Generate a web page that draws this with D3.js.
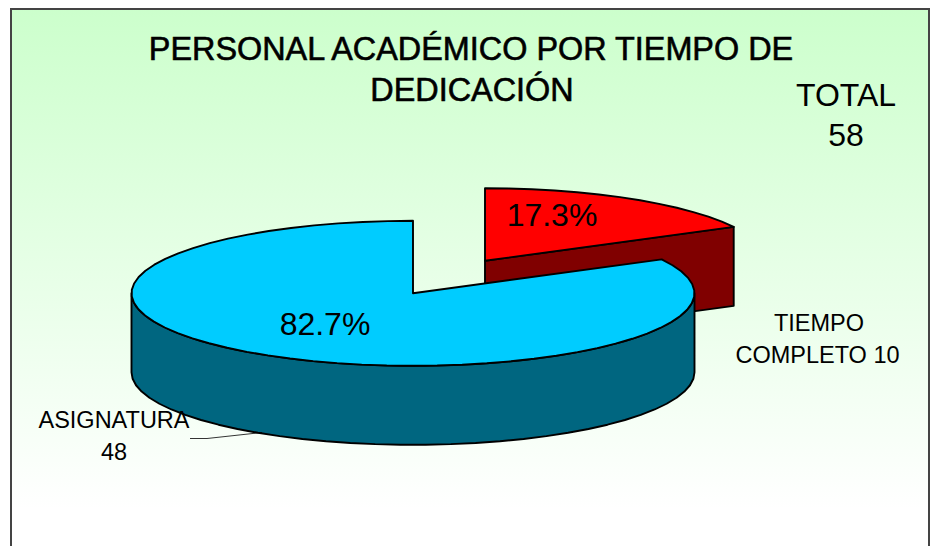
<!DOCTYPE html>
<html>
<head>
<meta charset="utf-8">
<script src="https://d3js.org/d3.v7.min.js"></script>
<style>
  html, body { margin: 0; padding: 0; background: #fff; }
  svg { display: block; }
  text { font-family: "Liberation Sans", Arial, sans-serif; fill: #000; }
</style>
</head>
<body>
<div id="chart"></div>
<script>
// Chart data
var categories = ["TIEMPO COMPLETO", "ASIGNATURA"];
var shares = [17.3, 82.7];
var counts = [10, 48];
var titleLines = ["PERSONAL ACADÉMICO POR TIEMPO DE", "DEDICACIÓN"];
var totalLabel = "TOTAL";
var totalValue = 58;

// Chart details
var svgWidth = 932;
var svgHeight = 546;

var rx = 281.5;
var ry = 72.5;
var depth = 79;
var pieCenter = { x: 413, y: 293.3 };

// the red slice is pulled out of the pie
var explode = [{ x: 72, y: -32.5 }, { x: 0, y: 0 }];
var topColors = ["#ff0000", "#00ccff"];
var sideColors = ["#800000", "#006680"];

var svg = d3.select("#chart").append("svg")
  .attr("width", svgWidth)
  .attr("height", svgHeight);

// Background gradient
var grad = svg.append("defs").append("linearGradient")
  .attr("id", "bg")
  .attr("x1", 0).attr("y1", 0)
  .attr("x2", 0).attr("y2", 1);
grad.append("stop").attr("offset", "0%").attr("stop-color", "#ccffcc");
grad.append("stop").attr("offset", "100%").attr("stop-color", "#ffffff");

svg.append("rect")
  .attr("x", 11)
  .attr("y", 9)
  .attr("width", 918)
  .attr("height", 500)
  .attr("fill", "url(#bg)");

// Frame, open at the bottom of the picture
svg.append("path")
  .attr("d", "M11,546V9H929V546")
  .attr("fill", "none")
  .attr("stroke", "#444")
  .attr("stroke-width", 2);

// Unit circle to flattened ellipse
var xProj = d3.scaleLinear().domain([-1, 1]).range([pieCenter.x - rx, pieCenter.x + rx]);
var yProj = d3.scaleLinear().domain([-1, 1]).range([pieCenter.y + ry, pieCenter.y - ry]);

var line = d3.line();
var slices = d3.pie().sort(null)(counts);

function point(angle, off, drop) {
  return [xProj(Math.sin(angle)) + off.x, yProj(Math.cos(angle)) + off.y + drop];
}

// coarse steps, the original rim is a visible polygon
function rimPoints(a0, a1, off, drop) {
  var n = Math.ceil((a1 - a0) / 0.09);
  return d3.range(n + 1).map(function(i) {
    return point(a0 + (a1 - a0) * i / n, off, drop);
  });
}

function center(off, drop) {
  return [xProj(0) + off.x, yProj(0) + off.y + drop];
}

function drawSide(pts, color) {
  svg.append("path")
    .attr("d", line(pts) + "Z")
    .attr("fill", color)
    .attr("stroke", "#000")
    .attr("stroke-width", 1.9)
    .attr("stroke-linejoin", "round");
}

slices.forEach(function(s, i) {
  var off = explode[i];
  var a0 = s.startAngle;
  var a1 = s.endAngle;

  // cut wall that faces the viewer
  if (i === 0) {
    drawSide([center(off, 0), point(a1, off, 0), point(a1, off, depth), center(off, depth)], sideColors[i]);
  }

  // outer wall, front half of the rim only
  var f0 = Math.max(a0, Math.PI / 2);
  var f1 = Math.min(a1, Math.PI * 3 / 2);
  if (f1 > f0) {
    var upper = rimPoints(f0, f1, off, 0);
    var lower = rimPoints(f0, f1, off, depth).reverse();
    drawSide(upper.concat(lower), sideColors[i]);
  }

  // top face
  svg.append("path")
    .attr("d", line([center(off, 0)].concat(rimPoints(a0, a1, off, 0))) + "Z")
    .attr("fill", topColors[i])
    .attr("stroke", "#000")
    .attr("stroke-width", 1.9)
    .attr("stroke-linejoin", "round");
});

// Leader line for ASIGNATURA
svg.append("path")
  .attr("d", "M190,438.5H207L262,432.5")
  .attr("fill", "none")
  .attr("stroke", "#000")
  .attr("stroke-width", 0.8);

function addText(str, x, y, size) {
  return svg.append("text")
    .attr("x", x)
    .attr("y", y)
    .attr("text-anchor", "middle")
    .attr("font-size", size)
    .text(str);
}

// Title, slightly heavier than the other labels
addText(titleLines[0], 471, 60, 32.4).attr("stroke", "#000").attr("stroke-width", 0.6);
addText(titleLines[1], 472, 100.5, 32.4).attr("stroke", "#000").attr("stroke-width", 0.6);

// Total
addText(totalLabel, 846, 106, 32);
addText(totalValue, 846, 146, 32);

// Percent labels
addText(shares[0].toFixed(1) + "%", 552, 226, 32);
addText(shares[1].toFixed(1) + "%", 325, 335, 32);

// Category labels
addText("TIEMPO", 819, 331, 23.5);
addText("COMPLETO " + counts[0], 817.5, 363, 23.5);
addText(categories[1], 114, 428, 23.5);
addText(counts[1], 114, 460, 23.5);
</script>
</body>
</html>
